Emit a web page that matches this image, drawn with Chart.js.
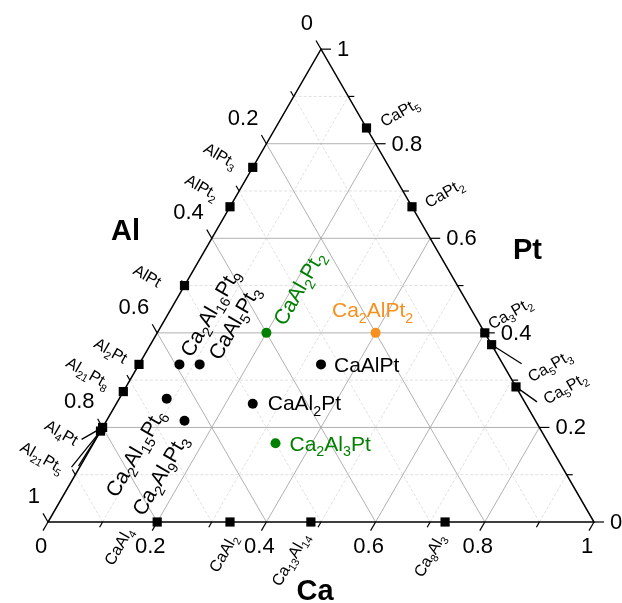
<!DOCTYPE html>
<html><head><meta charset="utf-8">
<script src="https://cdn.jsdelivr.net/npm/chart.js@4"></script>
<style>html,body{margin:0;padding:0;background:#fff}#wrap{width:622px;height:603px;position:relative}</style>
</head><body><div id="wrap"><canvas id="c"></canvas></div>
<script>
// ---------------- DATA (atom counts Al : Ca : Pt) ----------------
const edgePhases = ['AlPt3','AlPt2','AlPt','Al2Pt','Al21Pt8','Al4Pt','Al21Pt5','CaPt5','CaPt2','Ca3Pt2','Ca5Pt3','Ca5Pt2','CaAl4','CaAl2','Ca13Al14','Ca8Al3'];
const edgeAl = [1,1,1,2,21,4,21, 0,0,0,0,0, 4,2,14,3];
const edgeCa = [0,0,0,0,0,0,0, 1,1,3,5,5, 1,1,13,8];
const edgePt = [3,2,1,1,8,1,5, 5,2,2,3,2, 0,0,0,0];

const innerPhases = ['CaAl2Pt2','Ca2AlPt2','CaAlPt','CaAl2Pt','Ca2Al3Pt','Ca2Al16Pt9','CaAl5Pt3','Ca2Al15Pt6','Ca2Al9Pt3'];
const innerAl = [2,1,1,2,3,16,5,15,9];
const innerCa = [1,2,1,1,2,2,1,2,2];
const innerPt = [2,2,1,1,1,9,3,6,3];
const innerGroup = ['green','orange','black','black','green','black','black','black','black'];

const majorTicks = [0,0.2,0.4,0.6,0.8,1];
const majorTickLabels = ['0','0.2','0.4','0.6','0.8','1'];
const minorTicks = [0.1,0.3,0.5,0.7,0.9];
const gridValues = [0.1,0.2,0.3,0.4,0.5,0.6,0.7,0.8,0.9];
const axisTitles = {al:'Al', ca:'Ca', pt:'Pt'};

// ---------------- STYLE (label placement in px, rotation in degrees) ----------------
const groupColor = {green:'#008000', orange:'#f7901e', black:'#000000'};
const edgeLabelStyle = [
  {dx:-32,dy:-12,rot:30},{dx:-28,dy:-20,rot:30},{dx:-37,dy:-10,rot:30},{dx:-28,dy:-14,rot:30},
  {dx:-35,dy:-19,rot:30},{dx:-41,dy:5,rot:30,lead:[[-21,12]]},{dx:-58,dy:26,rot:30,lead:[[-29,36],[-22,35]]},
  {dx:33,dy:-16,rot:-30},{dx:32,dy:-14,rot:-30},{dx:25,dy:-20,rot:-30},
  {dx:58,dy:21,rot:-30,lead:[[30,19]]},{dx:49,dy:1,rot:-30,lead:[[21,15]]},
  {dx:-39,dy:24,rot:-60},{dx:-7,dy:31,rot:-60},{dx:-21,dy:37,rot:-60},{dx:-16,dy:33,rot:-60}
];
const innerLabelStyle = [
  {dx:32,dy:-45,rot:-60,align:'center'},
  {dx:-3,dy:-23,rot:0,align:'center'},
  {dx:13,dy:0,rot:0,align:'left'},
  {dx:15,dy:-1,rot:0,align:'left'},
  {dx:14,dy:0,rot:0,align:'left'},
  {dx:30,dy:-52,rot:-60,align:'center'},
  {dx:34,dy:-42,rot:-60,align:'center'},
  {dx:-32,dy:54,rot:-60,align:'center'},
  {dx:-25,dy:54,rot:-60,align:'center'}
];
const FONT = '"Liberation Sans", Arial, Helvetica, sans-serif';

// ternary -> cartesian (Ca at right, Pt at top, Al at left)
const S3 = Math.sqrt(3)/2;
function tern(al, ca, pt){ const s = al+ca+pt; ca/=s; pt/=s; return {x: ca + pt/2, y: pt*S3}; }

const edgePts = edgePhases.map((n,i)=>tern(edgeAl[i],edgeCa[i],edgePt[i]));
const innerPts = innerPhases.map((n,i)=>tern(innerAl[i],innerCa[i],innerPt[i]));

// rich text with numeric subscripts
function richSegments(t){ return t.split(/(\d+)/).filter(s=>s.length).map(s=>({t:s, sub:/^\d+$/.test(s)})); }
function drawRich(ctx, text, x, y, size, color, rotDeg, align){
  const segs = richSegments(text);
  const subSize = size*0.68;
  let w = 0;
  segs.forEach(sg=>{ ctx.font = (sg.sub?subSize:size)+'px '+FONT; sg.w = ctx.measureText(sg.t).width; w += sg.w; });
  ctx.save();
  ctx.translate(x,y);
  ctx.rotate(rotDeg*Math.PI/180);
  ctx.fillStyle = color;
  ctx.textBaseline = 'alphabetic';
  ctx.textAlign = 'left';
  let cx = align==='center' ? -w/2 : 0;
  const base = size*0.36;
  segs.forEach(sg=>{
    ctx.font = (sg.sub?subSize:size)+'px '+FONT;
    ctx.fillText(sg.t, cx, sg.sub ? base + size*0.26 : base);
    cx += sg.w;
  });
  ctx.restore();
}

const ternaryPlugin = {
  id:'ternary',
  beforeDatasetsDraw(chart){
    const ctx = chart.ctx, xs = chart.scales.x, ys = chart.scales.y;
    const P = (al,ca,pt)=>{ const c = tern(al,ca,pt); return [xs.getPixelForValue(c.x), ys.getPixelForValue(c.y)]; };
    ctx.save();
    // grid
    gridValues.forEach(v=>{
      const major = Math.abs(Math.round(v*10)%2)===0;
      ctx.strokeStyle = major ? '#a8a8a8' : '#d8d8d8';
      ctx.lineWidth = major ? 0.9 : 0.8;
      ctx.setLineDash(major ? [] : [3,2]);
      const lines = [
        [P(1-v,0,v), P(0,1-v,v)],       // const Pt
        [P(1-v,v,0), P(0,v,1-v)],       // const Ca
        [P(v,1-v,0), P(v,0,1-v)]        // const Al
      ];
      lines.forEach(l=>{ ctx.beginPath(); ctx.moveTo(l[0][0],l[0][1]); ctx.lineTo(l[1][0],l[1][1]); ctx.stroke(); });
    });
    ctx.setLineDash([]);
    // triangle
    const A = P(1,0,0), C = P(0,1,0), T = P(0,0,1);
    ctx.strokeStyle = '#000'; ctx.lineWidth = 1.5;
    ctx.beginPath(); ctx.moveTo(A[0],A[1]); ctx.lineTo(C[0],C[1]); ctx.lineTo(T[0],T[1]); ctx.closePath(); ctx.stroke();
    // ticks
    ctx.lineWidth = 1.2;
    const tick = (p, dir, len)=>{ ctx.beginPath(); ctx.moveTo(p[0],p[1]); ctx.lineTo(p[0]+dir[0]*len, p[1]+dir[1]*len); ctx.stroke(); };
    const dCa = [-0.5, S3], dPt = [1,0], dAl = [-0.5,-S3];
    const allT = majorTicks.map(v=>[v,10]).concat(minorTicks.map(v=>[v,6]));
    allT.forEach(([v,len])=>{
      tick(P(1-v,v,0), dCa, len);     // Ca axis (bottom)
      tick(P(0,1-v,v), dPt, len);     // Pt axis (right)
      tick(P(v,0,1-v), dAl, len);     // Al axis (left)
    });
    // tick labels
    ctx.fillStyle = '#000';
    ctx.font = '22px '+FONT;
    majorTicks.forEach((v,i)=>{
      const lab = majorTickLabels[i];
      let p = P(1-v,v,0); ctx.textAlign='center'; ctx.textBaseline='middle';
      ctx.fillText(lab, p[0]-7, p[1]+25);
      p = P(0,1-v,v); ctx.textAlign='left';
      ctx.fillText(lab, p[0]+16, p[1]+1);
      p = P(v,0,1-v); ctx.textAlign='right';
      ctx.fillText(lab, p[0]-8, p[1]-25);
    });
    // axis titles
    ctx.font = 'bold 29px '+FONT; ctx.textAlign='center'; ctx.textBaseline='middle';
    let p = P(0.5,0.5,0); ctx.fillText(axisTitles.ca, p[0]-6, p[1]+70);
    p = P(0,0.5,0.5); ctx.fillText(axisTitles.pt, p[0]+70, p[1]-35);
    p = P(0.5,0,0.5); ctx.fillText(axisTitles.al, p[0]-59, p[1]-54);
    ctx.restore();
  },
  afterDatasetsDraw(chart){
    const ctx = chart.ctx, xs = chart.scales.x, ys = chart.scales.y;
    ctx.save();
    edgePts.forEach((c,i)=>{
      const px = xs.getPixelForValue(c.x), py = ys.getPixelForValue(c.y), st = edgeLabelStyle[i];
      if (st.lead){ ctx.strokeStyle='#000'; ctx.lineWidth=1.3; st.lead.forEach(l=>{ ctx.beginPath(); ctx.moveTo(px,py); ctx.lineTo(px+l[0],py+l[1]); ctx.stroke(); }); }
      drawRich(ctx, edgePhases[i], px+st.dx, py+st.dy, 16, '#000', st.rot, 'center');
    });
    innerPts.forEach((c,i)=>{
      const px = xs.getPixelForValue(c.x), py = ys.getPixelForValue(c.y), st = innerLabelStyle[i];
      drawRich(ctx, innerPhases[i], px+st.dx, py+st.dy, 21, groupColor[innerGroup[i]], st.rot, st.align);
    });
    ctx.restore();
  }
};

new Chart(document.getElementById('c'), {
  type:'scatter',
  data:{ datasets:[
    { label:'binary', data:edgePts, pointStyle:'rect', radius:6.5, hoverRadius:6.5, backgroundColor:'#000', borderColor:'#000', borderWidth:0 },
    { label:'ternary', data:innerPts, pointStyle:'circle', radius:5, hoverRadius:5,
      backgroundColor: innerGroup.map(g=>groupColor[g]), borderColor: innerGroup.map(g=>groupColor[g]), borderWidth:0 }
  ]},
  options:{
    responsive:true, maintainAspectRatio:false, animation:false,
    layout:{padding:0, autoPadding:false},
    plugins:{legend:{display:false}, tooltip:{enabled:false}, title:{display:false}},
    events:[],
    scales:{
      x:{type:'linear', display:false, min:-48/546, max:(622-48)/546},
      y:{type:'linear', display:false, min:-(603-522)/546, max:522/546}
    }
  },
  plugins:[ternaryPlugin]
});
</script>
</body></html>
